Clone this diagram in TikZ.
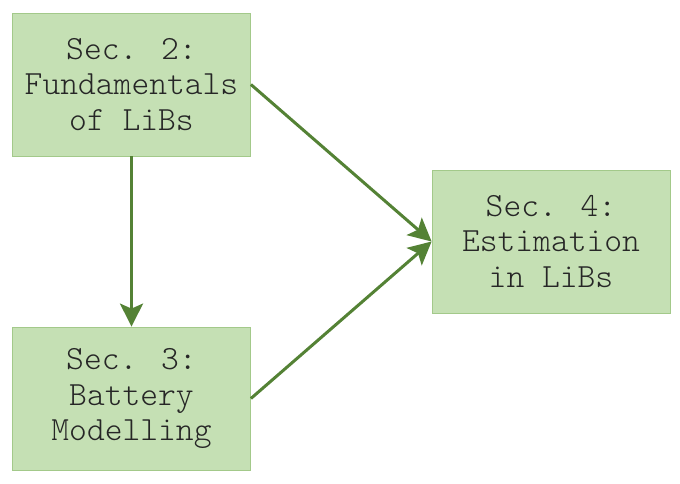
\documentclass[tikz,border=0pt]{standalone}
\usepackage{fontspec}
\usetikzlibrary{arrows.meta}
\definecolor{boxfill}{HTML}{C5E0B4}
\definecolor{boxline}{HTML}{A3C98A}
\definecolor{arrowc}{HTML}{548235}
\definecolor{txt}{HTML}{262626}
\tikzset{
  secbox/.style={draw=boxline, line width=0.8pt, fill=boxfill, minimum width=238pt, minimum height=143pt,
    inner sep=0pt, align=center, text=txt, font=\ttfamily\fontseries{l}\fontsize{33.9pt}{35.5pt}\selectfont},
  conn/.style={draw=arrowc, line width=3pt, -{Stealth[length=23pt, width=23pt, inset=5pt]}}
}
\begin{document}
\begin{tikzpicture}[x=1pt,y=-1pt]
\useasboundingbox (0,0) rectangle (680,483);
\node[secbox] (s2) at (131.5,84.5) {Sec. 2:\\Fundamentals\\of LiBs};
\node[secbox] (s3) at (131.5,398.5) {Sec. 3:\\Battery\\Modelling};
\node[secbox] (s4) at (551,241.5) {Sec. 4:\\Estimation\\in LiBs};
\draw[conn] (s2.south) -- (s3.north);
\draw[conn] (s2.east) -- (s4.west);
\draw[conn] (s3.east) -- (s4.west);
\end{tikzpicture}
\end{document}
